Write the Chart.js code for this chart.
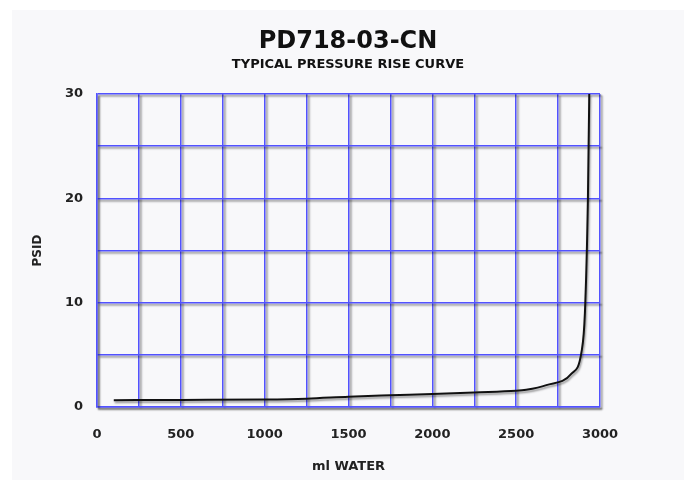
<!DOCTYPE html>
<html lang="en">
<head>
  <meta charset="UTF-8">
  <title>PD718-03-CN</title>
  <style>
    body {
      margin: 0;
      background-color: white;
    }
    .panel {
      position: absolute;
      left: 12px;
      top: 10px;
      width: 672px;
      height: 470px;
      background-color: #f8f8fa;
    }
  </style>
  <script src="https://cdn.jsdelivr.net/npm/chart.js"></script>
</head>
<body>
  <div class="panel">
    <canvas id="riseChart" width="672" height="470"></canvas>
  </div>

  <script>
    // readings (ml of water vs psid)
    const waterMl = [100, 500, 1000, 1250, 1500, 1750, 2000, 2250, 2500, 2560, 2680, 2830, 2890, 2910, 2928, 2936];
    const psid    = [0.65, 0.68, 0.72, 0.8, 0.98, 1.12, 1.25, 1.4, 1.55, 1.65, 2.1, 3.2, 5.3, 9, 20, 30];

    const xMin = 0, xMax = 3000, xStep = 250, xLabelEvery = 500;
    const yMin = 0, yMax = 30, yStep = 5, yLabelEvery = 10;

    const gridBlue = '#5252ff';
    const textFont = 'DejaVu Sans';

    // gray drop shadow under grid and curve
    const withShadow = (ctx, fn) => {
      ctx.save();
      ctx.shadowColor = 'rgba(0, 0, 0, 0.45)';
      ctx.shadowOffsetX = 2;
      ctx.shadowOffsetY = 2;
      ctx.shadowBlur = 2;
      fn();
      ctx.restore();
    };

    const shadowPlugin = {
      id: 'shadows',
      beforeDraw(chart) {
        Object.values(chart.scales).forEach(scale => {
          if (scale._shadowed) return;
          const grid = scale.drawGrid;
          const border = scale.drawBorder;
          scale.drawGrid = function (area) { withShadow(chart.ctx, () => grid.call(this, area)); };
          scale.drawBorder = function () { withShadow(chart.ctx, () => border.call(this)); };
          scale._shadowed = true;
        });
      },
      beforeDatasetsDraw(chart) {
        const ctx = chart.ctx;
        ctx.save();
        ctx.shadowColor = 'rgba(0, 0, 0, 0.4)';
        ctx.shadowOffsetX = 1;
        ctx.shadowOffsetY = 2;
        ctx.shadowBlur = 2;
      },
      afterDatasetsDraw(chart) {
        chart.ctx.restore();
      }
    };

    const ctx = document.getElementById('riseChart').getContext('2d');
    const riseChart = new Chart(ctx, {
      type: 'line',
      data: {
        datasets: [{
          data: waterMl.map((v, i) => ({ x: v, y: psid[i] })),
          borderColor: '#111',
          borderWidth: 2,
          pointRadius: 0,
          cubicInterpolationMode: 'monotone',
          fill: false
        }]
      },
      options: {
        responsive: false,
        animation: false,
        layout: {
          padding: 0
        },
        scales: {
          x: {
            type: 'linear',
            min: xMin,
            max: xMax,
            afterFit: s => { s.height = 73; },
            grid: { color: gridBlue, lineWidth: 1.5, drawTicks: false },
            border: { color: gridBlue, width: 1.5 },
            ticks: {
              stepSize: xStep,
              autoSkip: false,
              maxRotation: 0,
              padding: 20,
              color: '#222',
              font: { family: textFont, size: 13, weight: 'bold' },
              callback: v => (v % xLabelEvery === 0 ? String(v) : '')
            },
            title: {
              display: true,
              text: 'ml WATER',
              color: '#222',
              padding: { top: 0, bottom: 6 },
              font: { family: textFont, size: 13, weight: 'bold' }
            }
          },
          y: {
            min: yMin,
            max: yMax,
            afterFit: s => { s.width = 85; },
            grid: { color: gridBlue, lineWidth: 1.5, drawTicks: false },
            border: { color: gridBlue, width: 1.5 },
            ticks: {
              stepSize: yStep,
              autoSkip: false,
              padding: 14,
              color: '#222',
              font: { family: textFont, size: 13, weight: 'bold' },
              callback: v => (v % yLabelEvery === 0 ? String(v) : '')
            },
            title: {
              display: true,
              text: 'PSID',
              color: '#222',
              padding: { top: 19, bottom: 0 },
              font: { family: textFont, size: 12, weight: 'bold' }
            }
          },
          // empty right-hand axis, only reserves the margin so the titles stay centred on the panel
          yRight: {
            position: 'right',
            min: yMin,
            max: yMax,
            afterFit: s => { s.width = 84; },
            grid: { display: false, drawOnChartArea: false },
            border: { display: false },
            ticks: { display: false }
          }
        },
        plugins: {
          legend: { display: false },
          tooltip: { enabled: false },
          title: {
            display: true,
            text: 'PD718-03-CN',
            color: '#111',
            padding: { top: 17, bottom: 1 },
            font: { family: textFont, size: 24, weight: 'bold' }
          },
          subtitle: {
            display: true,
            text: 'TYPICAL PRESSURE RISE CURVE',
            color: '#111',
            padding: { top: 0, bottom: 21.6 },
            font: { family: textFont, size: 13, weight: 'bold' }
          }
        }
      },
      plugins: [shadowPlugin]
    });
  </script>
</body>
</html>
